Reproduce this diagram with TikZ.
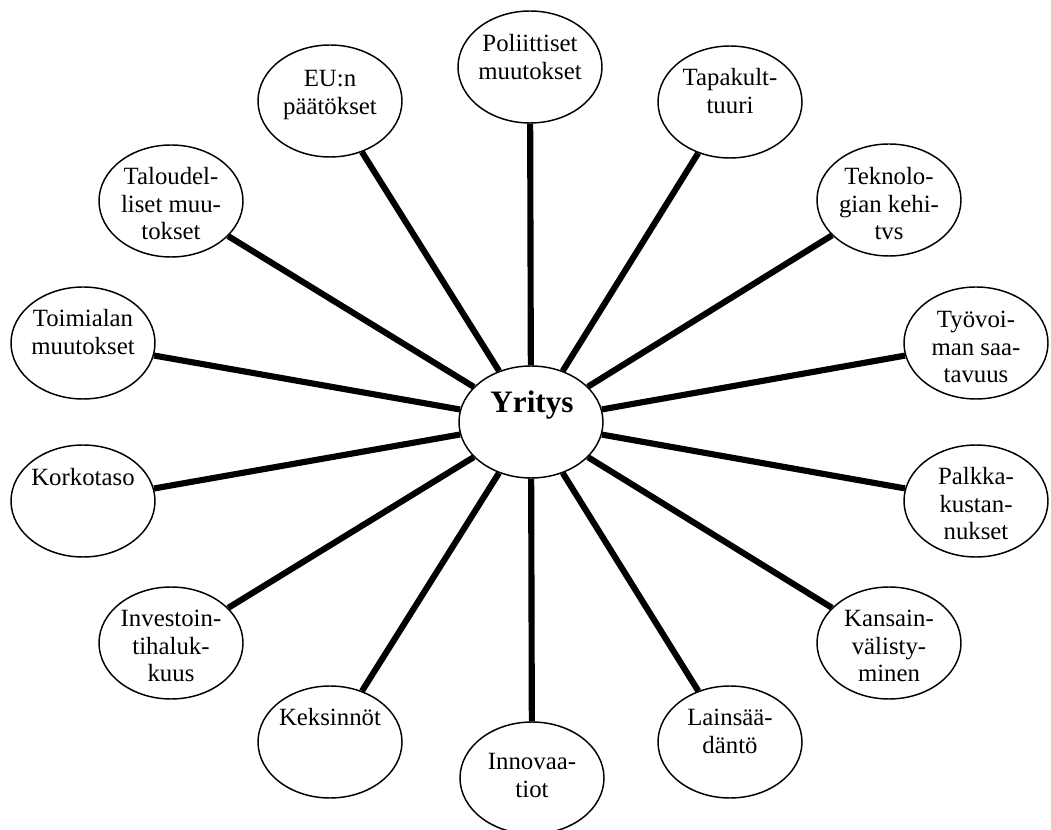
\documentclass[tikz,border=0pt]{standalone}
\usepackage{fontspec}
\setmainfont{Liberation Serif}
\usetikzlibrary{shapes.geometric}
\tikzset{
  oval/.style={draw=black, line width=1.1pt, ellipse, fill=white,
    minimum width=108pt, minimum height=84pt, inner sep=0pt},
  conn/.style={draw=black, line width=4.6pt},
  lbl/.style={anchor=base, inner sep=0pt, font=\fontsize{18.6}{20.6}\selectfont},
  bigl/.style={anchor=base, inner sep=0pt, font=\fontsize{23.4}{26}\selectfont\bfseries}
}
\newcommand{\tl}[1]{\begin{tabular}[t]{@{}c@{}}#1\end{tabular}}
\begin{document}
\begin{tikzpicture}[x=0.75pt,y=-0.75pt]
\useasboundingbox (0,0) rectangle (1051,830);
% ellipses
\node[oval] (yr)    at (531,422) {};
\node[oval] (pol)   at (530,67)  {};
\node[oval] (eu)    at (330,101) {};
\node[oval] (tapa)  at (730,102) {};
\node[oval] (talo)  at (171,201) {};
\node[oval] (tekno) at (889,200) {};
\node[oval] (toim)  at (83,343)  {};
\node[oval] (tyo)   at (976,343) {};
\node[oval] (kork)  at (83,501)  {};
\node[oval] (palk)  at (976,501) {};
\node[oval] (inv)   at (171,643) {};
\node[oval] (kans)  at (889,643) {};
\node[oval] (kek)   at (330,742) {};
\node[oval] (lain)  at (730,742) {};
\node[oval] (inno)  at (532,778) {};
% connectors
\foreach \n in {pol,eu,tapa,talo,tekno,toim,tyo,kork,palk,inv,kans,kek,lain,inno}
  \draw[conn] (yr) -- (\n);
% texts
\node[bigl] (t-yr)    at (532,413) {Yritys};
\node[lbl]  (t-pol)   at (530,52)  {\tl{Poliittiset\\muutokset}};
\node[lbl]  (t-eu)    at (330,87)  {\tl{EU:n\\päätökset}};
\node[lbl]  (t-tapa)  at (730,86)  {\tl{Tapakult-\\tuuri}};
\node[lbl]  (t-talo)  at (171,185) {\tl{Taloudel-\\liset muu-\\tokset}};
\node[lbl]  (t-tekno) at (889,185) {\tl{Teknolo-\\gian kehi-\\tvs}};
\node[lbl]  (t-toim)  at (83,327)  {\tl{Toimialan\\muutokset}};
\node[lbl]  (t-tyo)   at (976,328) {\tl{Työvoi-\\man saa-\\tavuus}};
\node[lbl]  (t-kork)  at (83,486)  {Korkotaso};
\node[lbl]  (t-palk)  at (976,485) {\tl{Palkka-\\kustan-\\nukset}};
\node[lbl]  (t-inv)   at (171,627) {\tl{Investoin-\\tihaluk-\\kuus}};
\node[lbl]  (t-kans)  at (889,627) {\tl{Kansain-\\välisty-\\minen}};
\node[lbl]  (t-kek)   at (330,726) {Keksinnöt};
\node[lbl]  (t-lain)  at (730,726) {\tl{Lainsää-\\däntö}};
\node[lbl]  (t-inno)  at (532,770) {\tl{Innovaa-\\tiot}};
\end{tikzpicture}
\end{document}
